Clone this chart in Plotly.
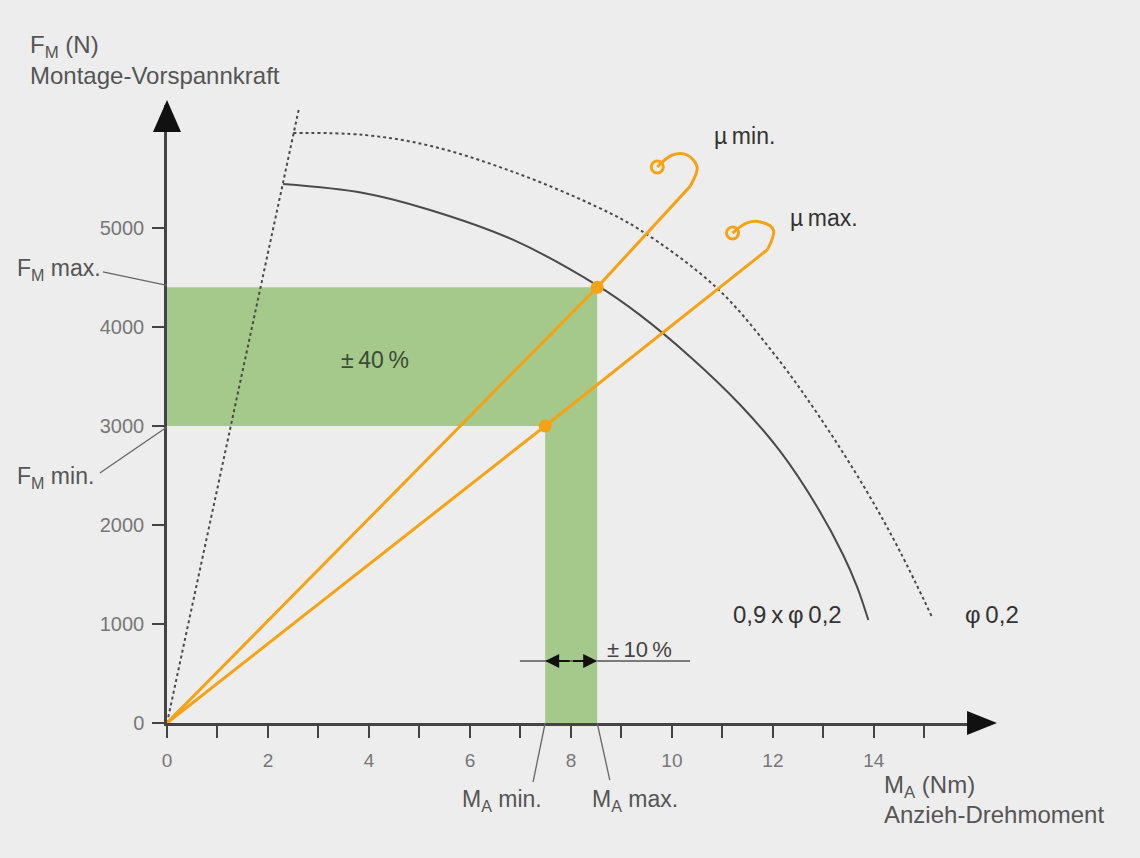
import plotly.graph_objects as go

# ---------------- data ----------------
# tightening torque M_A (Nm) / assembly preload F_M (N)
x_ticks = [0, 2, 4, 6, 8, 10, 12, 14]
x_minor = [1, 3, 5, 7, 9, 11, 13, 15]
y_ticks = [0, 1000, 2000, 3000, 4000, 5000]

fm_min, fm_max = 3000, 4400
ma_min, ma_max = 7.49, 8.52

# yield-limit curves
phi_x = [2.50, 3.89, 5.21, 6.86, 8.52, 9.37, 10.89, 12.01, 12.94, 13.87, 14.52, 15.16]
phi_y = [5960, 5940, 5830, 5566, 5212, 4980, 4394, 3737, 3080, 2330, 1730, 1061]
phi09_x = [2.30, 3.89, 5.21, 6.86, 8.52, 9.37, 10.36, 11.36, 12.15, 12.88, 13.39, 13.67, 13.89]
phi09_y = [5444, 5354, 5182, 4879, 4420, 4120, 3700, 3210, 2740, 2180, 1700, 1372, 1040]

# steep dotted line
steep_x = [0, 2.62]
steep_y = [0, 6222]

# friction lines (straight part) and their hooks
mu_min_x = [0, 8.52, 10.36]
mu_min_y = [0, 4400, 5420]
mu_min_hook_x = [10.36, 10.50, 10.30, 10.01, 9.71]
mu_min_hook_y = [5420, 5616, 5737, 5737, 5616]
mu_max_x = [0, 7.49, 11.89]
mu_max_y = [0, 3000, 4780]
mu_max_hook_x = [11.89, 12.01, 11.75, 11.49, 11.20]
mu_max_hook_y = [4780, 4980, 5061, 5051, 4949]

# ---------------- styling ----------------
XMAX, YMAX = 16.30, 6242
BG = "#ededed"
ORANGE = "#f5a315"
GREEN = "rgb(164,201,139)"
DARK = "#4a4a4a"
FONT = "Liberation Sans, Arial, sans-serif"


def PX(x):
    return x / XMAX


def PY(y):
    return y / YMAX


fig = go.Figure()

# curves
fig.add_trace(go.Scatter(x=steep_x, y=steep_y, mode="lines",
                         line=dict(color=DARK, width=2, dash="dot")))
fig.add_trace(go.Scatter(x=phi_x, y=phi_y, mode="lines", line_shape="spline",
                         line=dict(color=DARK, width=2, dash="dot")))
fig.add_trace(go.Scatter(x=phi09_x, y=phi09_y, mode="lines", line_shape="spline",
                         line=dict(color=DARK, width=2)))

for lx, ly, hx, hy in [(mu_min_x, mu_min_y, mu_min_hook_x, mu_min_hook_y),
                       (mu_max_x, mu_max_y, mu_max_hook_x, mu_max_hook_y)]:
    fig.add_trace(go.Scatter(x=lx, y=ly, mode="lines",
                             line=dict(color=ORANGE, width=3)))
    fig.add_trace(go.Scatter(x=hx, y=hy, mode="lines", line_shape="spline",
                             line=dict(color=ORANGE, width=3)))
    fig.add_trace(go.Scatter(x=[hx[-1]], y=[hy[-1]], mode="markers",
                             marker=dict(symbol="circle-open", size=12, color=ORANGE,
                                         line=dict(color=ORANGE, width=3))))

fig.add_trace(go.Scatter(x=[ma_max, ma_min], y=[fm_max, fm_min], mode="markers",
                         marker=dict(color=ORANGE, size=13)))

shapes = []
# green bands
shapes.append(dict(type="rect", xref="x", yref="y", x0=0, x1=ma_max, y0=fm_min, y1=fm_max,
                   fillcolor=GREEN, line=dict(width=0), layer="below"))
shapes.append(dict(type="rect", xref="x", yref="y", x0=ma_min, x1=ma_max, y0=0, y1=fm_min,
                   fillcolor=GREEN, line=dict(width=0), layer="below"))
# +-10 % dimension line
shapes.append(dict(type="line", xref="x", yref="y", x0=6.99, x1=ma_min, y0=626, y1=626,
                   line=dict(color="#555", width=1.5)))
shapes.append(dict(type="line", xref="x", yref="y", x0=ma_max, x1=10.36, y0=626, y1=626,
                   line=dict(color="#555", width=1.5)))
shapes.append(dict(type="line", xref="x", yref="y", x0=ma_min, x1=ma_max, y0=626, y1=626,
                   line=dict(color="#555", width=1.5, dash="dot")))

# leader lines (outside plot area -> paper coords)
for (x0, y0, x1, y1) in [(-1.27, 4556, 0, 4420), (-1.33, 2525, 0, 2990),
                         (7.25, -596, ma_min, 0), (8.77, -576, ma_max, 0)]:
    shapes.append(dict(type="line", xref="paper", yref="paper",
                       x0=PX(x0), y0=PY(y0), x1=PX(x1), y1=PY(y1),
                       line=dict(color="#666", width=1.3)))

# axis arrow heads
shapes.append(dict(type="path", xref="paper", yref="paper",
                   path="M 0.9721,0.0194 L 1.0085,0 L 0.9721,-0.0194 Z",
                   fillcolor="#111", line=dict(width=0)))
shapes.append(dict(type="path", xref="paper", yref="paper",
                   path="M -0.0170,0.9563 L 0,1.0081 L 0.0170,0.9563 Z",
                   fillcolor="#111", line=dict(width=0)))

annotations = []


def txt(x, y, text, size=24, color="#555", xanchor="left"):
    annotations.append(dict(xref="paper", yref="paper", x=PX(x), y=PY(y), text=text,
                            showarrow=False, xanchor=xanchor, yanchor="middle",
                            font=dict(family=FONT, size=size, color=color)))


txt(-2.75, 6828, "F<sub>M</sub> (N)")
txt(-2.75, 6545, "Montage-Vorspannkraft")
txt(-3.01, 4576, "F<sub>M</sub> max.", size=23)
txt(-3.01, 2475, "F<sub>M</sub> min.", size=23)
txt(4.12, 3667, "±\u200940\u2009%", size=23, color="#3d4a36", xanchor="center")
txt(10.79, 5929, "µ\u2009min.", size=23, color="#333")
txt(12.30, 5101, "µ\u2009max.", size=23, color="#333")
txt(11.17, 1091, "0,9\u2009x\u2009φ\u20090,2", size=24, color="#333")
txt(15.76, 1091, "φ\u20090,2", size=24, color="#333")
txt(8.67, 747, "±\u200910\u2009%", size=22, color="#444")
txt(5.80, -778, "M<sub>A</sub> min.", size=23)
txt(8.38, -778, "M<sub>A</sub> max.", size=23)
txt(14.16, -646, "M<sub>A</sub> (Nm)")
txt(14.16, -929, "Anzieh-Drehmoment")

# +-10 % arrowheads
for tip in [ma_min, ma_max]:
    annotations.append(dict(xref="x", yref="y", axref="x", ayref="y",
                            x=tip, y=626, ax=(ma_min + ma_max) / 2, ay=626, text="",
                            showarrow=True, arrowhead=2, arrowsize=1.4, arrowwidth=2,
                            arrowcolor="#111"))

fig.update_layout(
    width=1140, height=858, autosize=False,
    margin=dict(l=167, r=150, t=105, b=135),
    paper_bgcolor=BG, plot_bgcolor=BG,
    showlegend=False,
    shapes=shapes, annotations=annotations,
    font=dict(family=FONT),
)
fig.update_xaxes(range=[0, XMAX], showgrid=False, zeroline=False,
                 showline=True, linecolor="#444", linewidth=2.5,
                 tickmode="array", tickvals=x_ticks, ticktext=[str(v) for v in x_ticks],
                 ticks="outside", ticklen=12, tickwidth=2, tickcolor="#444",
                 ticklabelstandoff=6,
                 tickfont=dict(family=FONT, size=19, color="#777"),
                 minor=dict(tickvals=x_minor, ticks="outside", ticklen=12,
                            tickwidth=2, tickcolor="#444", showgrid=False))
fig.update_yaxes(range=[0, YMAX], showgrid=False, zeroline=False,
                 showline=True, linecolor="#444", linewidth=2.5,
                 tickmode="array", tickvals=y_ticks, ticktext=[str(v) for v in y_ticks],
                 ticks="outside", ticklen=12, tickwidth=2, tickcolor="#444",
                 ticklabelstandoff=4,
                 tickfont=dict(family=FONT, size=20, color="#777"))

fig.write_html("out.html",
               config={"displayModeBar": False},
               post_script="document.body.style.margin='0';"
                           "document.body.style.background='#ededed';")
